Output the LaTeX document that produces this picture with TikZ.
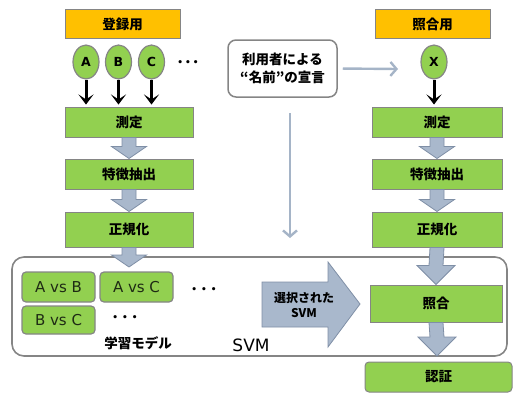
\documentclass[tikz,border=0pt]{standalone}
\usepackage{fontspec}
\setmainfont{DejaVu Sans}
\newfontfamily\jp{Noto Sans CJK JP}
\usetikzlibrary{arrows.meta,calc,shapes.geometric}
\definecolor{orng}{HTML}{FFC000}
\definecolor{grn}{HTML}{92D050}
\definecolor{bord}{HTML}{858585}
\definecolor{arrf}{HTML}{A9B8CC}
\definecolor{arrd}{HTML}{7F8FA6}
\definecolor{thinc}{HTML}{A5B4C7}
\definecolor{txt}{HTML}{1E2A14}
\begin{document}
\begin{tikzpicture}[x=1pt,y=-1pt,
  jt/.style={font=\jp\bfseries\fontsize{13.5}{18}\selectfont},
  obox/.style={draw=bord, line width=1pt, fill=orng, minimum width=115pt, minimum height=29pt, inner sep=0pt, jt},
  gbox/.style={draw=bord, line width=1pt, fill=grn, minimum width=128pt, minimum height=30pt, inner sep=0pt, jt},
  sbox/.style={draw=bord, line width=1.2pt, fill=grn, rounded corners=4pt, minimum width=73pt, minimum height=30pt, inner sep=0pt, text=txt, font=\fontsize{15}{18}\selectfont},
  ell/.style={ellipse, draw=bord, line width=1.2pt, fill=grn, minimum width=26pt, minimum height=34pt, inner sep=0pt, font=\bfseries\fontsize{12.5}{14}\selectfont},
  blk/.style={line width=3pt, -{Stealth[length=10pt,width=15pt,inset=5pt]}, shorten >=2pt},
  thinarr/.style={draw=thinc, line width=2.4pt, -{Straight Barb[length=6pt,width=14pt]}},
  dots/.style={font=\bfseries\fontsize{9}{10}\selectfont, inner sep=0pt},
  barrow/.style={fill=arrf, draw=arrd, line width=0.8pt, to path={
    ($(\tikztostart)+(-7,0)$) -- ($(\tikztotarget)+(-7,-12)$) -- ($(\tikztotarget)+(-17.5,-12)$) -- (\tikztotarget)
    -- ($(\tikztotarget)+(17.5,-12)$) -- ($(\tikztotarget)+(7,-12)$) -- ($(\tikztostart)+(7,0)$) -- cycle}},
  barrowL/.style={fill=arrf, draw=arrd, line width=0.8pt, to path={
    ($(\tikztostart)+(-7,0)$) -- ($(\tikztotarget)+(-7,-19)$) -- ($(\tikztotarget)+(-19,-19)$) -- (\tikztotarget)
    -- ($(\tikztotarget)+(19,-19)$) -- ($(\tikztotarget)+(7,-19)$) -- ($(\tikztostart)+(7,0)$) -- cycle}}
]
\useasboundingbox (0,0) rectangle (515,394);

% container
\node[draw=bord, line width=1.6pt, rounded corners=12pt, minimum width=495pt, minimum height=99pt, inner sep=0pt] (svm) at (259.5,306.5) {};

% left column
\node[obox] (reg) at (122.5,24) {登録用};
\node[ell] (A) at (86,62) {A};
\node[ell] (B) at (118.5,62) {B};
\node[ell] (C) at (151.5,62) {C};
\node[dots] (d1) at (188,63) {•\hspace{2pt}•\hspace{2pt}•};
\node[gbox] (m1) at (129,122) {測定};
\node[gbox] (f1) at (129,174) {特徴抽出};
\node[gbox, minimum height=35pt] (n1) at (129,229.5) {正規化};

% right column
\node[obox] (mat) at (432.5,24) {照合用};
\node[ell] (X) at (434,62) {X};
\node[gbox, minimum width=130pt] (m2) at (437,122) {測定};
\node[gbox, minimum width=130pt] (f2) at (437,174) {特徴抽出};
\node[gbox, minimum width=130pt, minimum height=35pt] (n2) at (437,229.5) {正規化};
\node[gbox, minimum width=132pt, minimum height=37pt] (chk) at (436,303.5) {照合};
\node[gbox, minimum width=147pt, rounded corners=4pt] (auth) at (438.5,377) {認証};

% user box
\node[draw=bord, line width=1.5pt, rounded corners=8pt, minimum width=109pt, minimum height=57pt, align=center, font=\jp\bfseries\fontsize{13.5}{18}\selectfont] (usr) at (282.5,68.5) {利用者による\\“名前”の宣言};

% models
\node[sbox] (ab) at (58.5,287) {A vs B};
\node[sbox] (ac) at (136.5,287) {A vs C};
\node[sbox, minimum height=28pt] (bc) at (58.5,320) {B vs C};
\node[dots] (d2) at (204,290) {•\hspace{4pt}•\hspace{4pt}•};
\node[dots] (d3) at (125,318) {•\hspace{4pt}•\hspace{4pt}•};
\node[jt] (lm) at (138,343) {学習モデル};
\node[font=\fontsize{17}{20}\selectfont, inner sep=0pt] (svmt) at (251,345) {SVM};

% big arrow
\draw[fill=arrf, draw=arrd, line width=0.8pt] (262,282) -- (328,282) -- (328,262) -- (360,304) -- (328,347) -- (328,327) -- (262,327) -- cycle;
\node[align=center, font=\jp\bfseries\fontsize{12}{14.5}\selectfont, inner sep=0pt] (sel) at (304,305) {選択された\\SVM};

% black arrows
\draw[blk] (A.south) -- (A.south |- m1.north);
\draw[blk] (B.south) -- (B.south |- m1.north);
\draw[blk] (C.south) -- (C.south |- m1.north);
\draw[blk] (X.south) -- (X.south |- m2.north);

% thin arrows
\coordinate (ht) at (398,69);
\coordinate (vs) at (290,113);
\coordinate (vt) at (290,238);
\draw[thinarr, shorten <=5pt] (usr.east) -- (ht);
\draw[thinarr] (vs) -- (vt);

% block arrows
\coordinate (ct) at (129,267);
\coordinate (bt) at (437,356);
\draw[barrow] (m1.south) to (f1.north);
\draw[barrow] (f1.south) to (n1.north);
\draw[barrow] (n1.south) to (ct);
\draw[barrow] (m2.south) to (f2.north);
\draw[barrow] (f2.south) to (n2.north);
\draw[barrowL] (n2.south) to (chk.north);
\draw[barrowL] (chk.south) to (bt);
\end{tikzpicture}
\end{document}
